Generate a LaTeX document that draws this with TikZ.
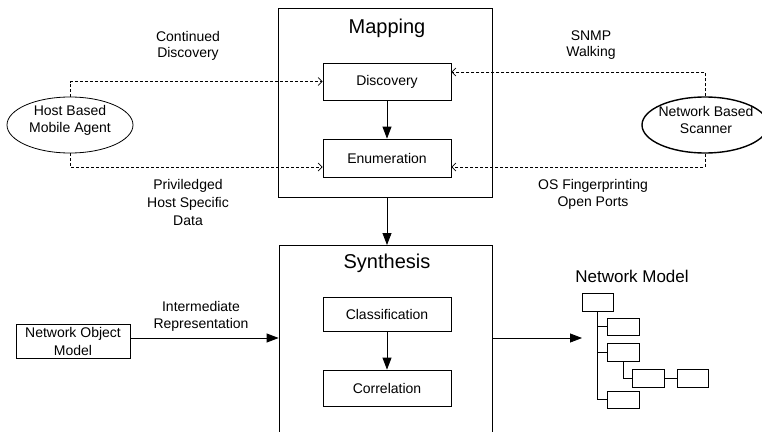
\documentclass[tikz,border=0pt]{standalone}
\usepackage{fontspec}
\setmainfont{Liberation Sans}
\usetikzlibrary{arrows.meta,shapes.geometric}
\begin{document}
\begin{tikzpicture}[x=1pt,y=-1pt,
  txt/.style={font=\fontsize{14}{17}\selectfont, align=center, inner sep=0pt},
  title/.style={font=\fontsize{20}{24}\selectfont, inner sep=0pt, anchor=base},
  stage/.style={draw, line width=0.8pt, inner sep=0pt},
  proc/.style={draw, line width=0.8pt, minimum width=128pt, inner sep=0pt, font=\fontsize{14}{17}\selectfont},
  agent/.style={draw, ellipse, minimum width=126pt, minimum height=56pt, inner sep=0pt},
  tbox/.style={draw, line width=0.7pt, minimum width=32pt, minimum height=18pt, inner sep=0pt},
  tree/.style={line width=0.7pt},
  flow/.style={line width=0.8pt, -{Triangle[length=12pt,width=9pt]}},
  probe/.style={line width=0.7pt, dash pattern=on 3pt off 2pt, -{Straight Barb[length=4pt,width=8pt]}},
]
\useasboundingbox (0,0) rectangle (762,431);
\fill[white] (0,0) rectangle (762,431);
\clip (0,0) rectangle (762,431);

% Mapping stage
\node[stage, minimum width=214pt, minimum height=189pt] (map) at (385,102.5) {};
\node[title] at (387,33) {Mapping};
\node[proc, minimum height=37pt] (disc) at (387,81.5) {Discovery};
\node[proc, minimum height=38pt] (enum) at (387,158) {Enumeration};

% Synthesis stage (runs off the bottom edge)
\node[stage, minimum width=213pt, minimum height=210pt, anchor=north] (syn) at (385.5,245) {};
\node[title] at (387,268) {Synthesis};
\node[proc, minimum height=34pt] (cls) at (387,314) {Classification};
\node[proc, minimum height=36pt] (cor) at (387,388) {Correlation};

% Input object model
\node[draw, line width=0.8pt, minimum width=114pt, minimum height=34pt, txt, font=\fontsize{14}{18}\selectfont] (nom) at (73,341) {Network Object\\Model};

% Data sources
\node[agent, line width=0.8pt] (hbma) at (70,125) {};
\node[txt] at (70,120) {Host Based\\Mobile Agent};
\node[agent, line width=1.4pt] (nbs) at (705,125) {};
\node[txt] at (706,120) {Network Based\\Scanner};

% Connector labels
\node[txt, font=\fontsize{14}{16}\selectfont] at (188,46) {Continued\\Discovery};
\node[txt, font=\fontsize{14}{18}\selectfont] at (188,202) {Priviledged\\Host Specific\\Data};
\node[txt, font=\fontsize{14}{16}\selectfont] at (591,45) {SNMP\\Walking};
\node[txt] at (593,194.5) {OS Fingerprinting\\Open Ports};
\node[txt] at (201,316.5) {Intermediate\\Representation};

% Flow between stages
\draw[flow] (disc) -- (enum);
\draw[flow] (enum |- map.south) -- (enum |- syn.north);
\draw[flow] (cls) -- (cor);
\coordinate (lvl) at (0,338);
\coordinate (nmin) at (582,338);
\draw[flow] (nom.east |- lvl) -- (syn.west |- lvl);
\draw[flow] (syn.east |- lvl) -- (nmin);

% Probes feeding the mapping stage
\draw[probe] (hbma.north) |- (disc.west);
\draw[probe] (hbma.south) |- ([yshift=-9pt]enum.west);
\draw[probe] (nbs.north) |- ([yshift=9.5pt]disc.east);
\draw[probe] (nbs.south) |- ([yshift=-9pt]enum.east);

% Resulting network model tree
\node[font=\fontsize{17}{20}\selectfont, inner sep=0pt, anchor=base] at (632,282) {Network Model};
\node[tbox, minimum width=31pt] (t0) at (597.5,302) {};
\node[tbox, minimum height=17pt] (t1) at (623,326.5) {};
\node[tbox] (t2) at (623,352) {};
\node[tbox] (t3) at (648,378) {};
\node[tbox, minimum width=31pt] (t4) at (692.5,378) {};
\node[tbox, minimum height=17pt] (t5) at (623,399.5) {};
\draw[tree] (t0.south) |- (t5.west);
\draw[tree] (t0.south |- t1.west) -- (t1.west);
\draw[tree] (t0.south |- t2.west) -- (t2.west);
\draw[tree] (t2.south) |- (t3.west);
\draw[tree] (t3) -- (t4);
\end{tikzpicture}
\end{document}
